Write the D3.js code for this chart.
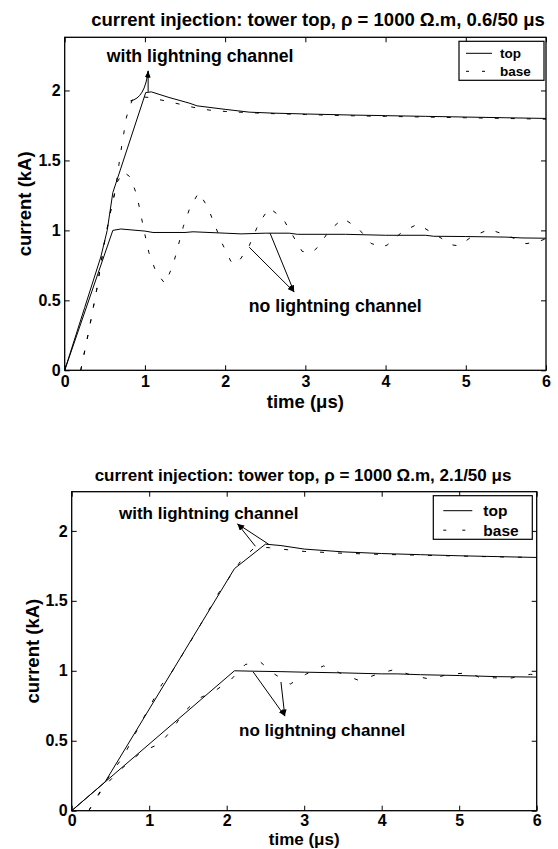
<!DOCTYPE html>
<html>
<head>
<meta charset="utf-8">
<script src="https://cdn.jsdelivr.net/npm/d3@7"></script>
<style>
  body { margin: 0; background: #fff; }
  text { font-family: Arial, "Liberation Sans", sans-serif; font-weight: bold; fill: #000; }
</style>
</head>
<body>
<svg id="fig" width="558" height="849"></svg>
<script>
var timeTicks = [0, 1, 2, 3, 4, 5, 6];
var currentTicks = [0, 0.5, 1, 1.5, 2];
var legendNames = ["top", "base"];

// 0.6/50 us, with lightning channel
var fastChanTopT  = [0, 0.25, 0.45, 0.53, 0.6, 1.01, 1.08, 1.3, 1.55, 1.65, 2.0, 2.3, 2.6, 3.0, 3.6, 4.0, 4.5, 5.0, 5.5, 6.0];
var fastChanTopI  = [0, 0.45, 0.81, 1.0, 1.27, 1.985, 1.99, 1.95, 1.91, 1.89, 1.865, 1.845, 1.838, 1.832, 1.824, 1.82, 1.815, 1.81, 1.805, 1.80];
var fastChanBaseT = [0.2, 0.3, 0.4, 0.5, 0.57, 0.63, 0.69, 0.77, 0.84, 0.95, 1.05, 1.3, 1.6, 1.8, 2.0, 2.5, 3.0, 3.5, 4.0, 4.5, 5.0, 5.5, 6.0];
var fastChanBaseI = [0, 0.28, 0.58, 0.93, 1.13, 1.28, 1.53, 1.81, 1.93, 1.955, 1.95, 1.92, 1.88, 1.86, 1.85, 1.836, 1.828, 1.82, 1.815, 1.81, 1.805, 1.80, 1.795];
// 0.6/50 us, no lightning channel
var fastNoTopT  = [0, 0.6, 0.7, 1.0, 1.1, 1.5, 1.6, 2.0, 2.2, 2.5, 2.8, 2.9, 3.5, 4.0, 4.5, 4.6, 5.0, 5.5, 5.7, 6.0];
var fastNoTopI  = [0, 1.0, 1.01, 0.995, 0.985, 0.985, 0.99, 0.98, 0.975, 0.98, 0.98, 0.972, 0.972, 0.965, 0.965, 0.958, 0.956, 0.952, 0.946, 0.944];
var fastNoBaseT = [0.2, 0.3, 0.4, 0.5, 0.57, 0.65, 0.73, 0.82, 0.9, 0.95, 1.0, 1.05, 1.14, 1.25, 1.35, 1.48, 1.56, 1.67, 1.78, 1.87, 1.96, 2.07, 2.15, 2.3, 2.42, 2.55, 2.72, 2.84, 2.96, 3.08, 3.16, 3.3, 3.47, 3.66, 3.82, 3.95, 4.02, 4.21, 4.4, 4.63, 4.84, 4.92, 5.07, 5.29, 5.51, 5.75, 5.9, 6.0];
var fastNoBaseI = [0, 0.28, 0.58, 0.93, 1.13, 1.34, 1.42, 1.38, 1.25, 1.11, 0.97, 0.84, 0.70, 0.62, 0.75, 1.03, 1.16, 1.27, 1.17, 1.04, 0.91, 0.78, 0.76, 0.89, 1.05, 1.16, 1.086, 0.966, 0.85, 0.84, 0.883, 1.0, 1.086, 1.014, 0.907, 0.88, 0.895, 0.99, 1.045, 0.966, 0.895, 0.89, 0.954, 1.007, 0.966, 0.905, 0.92, 0.94];

// 2.1/50 us, with lightning channel
var slowChanTopT  = [0, 0.43, 2.1, 2.5, 2.7, 3.0, 3.5, 4.0, 4.5, 5.0, 5.5, 6.0];
var slowChanTopI  = [0, 0.205, 1.73, 1.905, 1.895, 1.87, 1.85, 1.838, 1.83, 1.822, 1.816, 1.81];
var slowChanBaseT = [0.22, 0.39, 0.51, 0.67, 0.9, 1.16, 1.29, 1.6, 1.9, 2.2, 2.37, 2.55, 2.7, 3.0, 3.5, 4.0, 4.5, 5.0, 5.5, 6.0];
var slowChanBaseI = [0, 0.16, 0.27, 0.39, 0.636, 0.9, 0.99, 1.27, 1.56, 1.80, 1.885, 1.88, 1.87, 1.853, 1.84, 1.832, 1.826, 1.82, 1.814, 1.81];
// 2.1/50 us, no lightning channel
var slowNoTopT  = [0, 2.1, 2.35, 2.7, 3.0, 3.5, 4.0, 4.2, 4.5, 5.0, 5.5, 6.0];
var slowNoTopI  = [0, 1.0, 0.997, 0.994, 0.99, 0.985, 0.978, 0.978, 0.972, 0.966, 0.958, 0.955];
var slowNoBaseT = [0.22, 0.4, 0.6, 0.9, 1.14, 1.31, 1.44, 1.63, 1.85, 2.06, 2.24, 2.43, 2.62, 2.82, 3.02, 3.25, 3.48, 3.71, 3.94, 4.17, 4.4, 4.63, 4.86, 5.14, 5.27, 5.46, 5.64, 5.92, 6.0];
var slowNoBaseI = [0, 0.16, 0.28, 0.42, 0.48, 0.59, 0.70, 0.80, 0.857, 0.94, 1.045, 1.065, 0.975, 0.905, 0.975, 1.035, 0.98, 0.93, 0.975, 1.01, 0.965, 0.94, 0.975, 0.986, 0.95, 0.95, 0.945, 0.975, 0.97];

var svg = d3.select("#fig");
var defs = svg.append("defs");
defs.append("marker")
  .attr("id", "head")
  .attr("viewBox", "0 -3 8 6")
  .attr("refX", 8).attr("refY", 0)
  .attr("markerUnits", "userSpaceOnUse")
  .attr("markerWidth", 7).attr("markerHeight", 5)
  .attr("orient", "auto")
  .append("path").attr("d", "M0,-3L8,0L0,3Z").attr("fill", "#000");

function styleAxis(sel, size) {
  sel.attr("font-size", null).attr("font-family", null);
  sel.select(".domain").remove();
  sel.selectAll(".tick line").attr("stroke", "#000");
  sel.selectAll("text").style("font-size", size + "px");
}

function drawPanel(p) {
  var x = d3.scaleLinear().domain([0, 6]).range([p.left, p.right]);
  var y = d3.scaleLinear().domain([0, p.ymax]).range([p.bottom, p.top]);
  var g = svg.append("g");

  defs.append("clipPath").attr("id", "clip" + p.id)
    .append("rect")
    .attr("x", p.left).attr("y", p.top)
    .attr("width", p.right - p.left).attr("height", p.bottom - p.top);

  var fmt = function(d) { return d3.format("~g")(d); };

  g.append("g").attr("transform", "translate(0," + p.bottom + ")")
    .call(d3.axisBottom(x).tickValues(timeTicks).tickFormat(fmt)
      .tickSizeInner(-5).tickSizeOuter(0).tickPadding(p.xPad))
    .call(styleAxis, p.tickSize);
  g.append("g").attr("transform", "translate(0," + p.top + ")")
    .call(d3.axisTop(x).tickValues(timeTicks).tickFormat("")
      .tickSizeInner(-5).tickSizeOuter(0))
    .call(styleAxis, p.tickSize);
  g.append("g").attr("transform", "translate(" + p.left + ",0)")
    .call(d3.axisLeft(y).tickValues(currentTicks).tickFormat(fmt)
      .tickSizeInner(-5).tickSizeOuter(0).tickPadding(4))
    .call(styleAxis, p.tickSize);
  g.append("g").attr("transform", "translate(" + p.right + ",0)")
    .call(d3.axisRight(y).tickValues(currentTicks).tickFormat("")
      .tickSizeInner(-5).tickSizeOuter(0))
    .call(styleAxis, p.tickSize);

  var line = d3.line().x(function(d) { return x(d[0]); }).y(function(d) { return y(d[1]); });
  var plot = g.append("g").attr("clip-path", "url(#clip" + p.id + ")");
  p.series.forEach(function(s) {
    plot.append("path")
      .datum(d3.zip(s.t, s.i))
      .attr("d", line)
      .attr("fill", "none")
      .attr("stroke", "#000")
      .attr("stroke-width", 1)
      .attr("stroke-dasharray", s.dashed ? p.dash : null);
  });

  g.append("rect")
    .attr("x", p.left).attr("y", p.top)
    .attr("width", p.right - p.left).attr("height", p.bottom - p.top)
    .attr("fill", "none").attr("stroke", "#000").attr("stroke-width", 1.3);

  // title and axis labels
  g.append("text").attr("x", p.titleX).attr("y", p.titleY)
    .attr("text-anchor", "middle").style("font-size", p.titleSize + "px")
    .text(p.title);
  g.append("text").attr("x", (p.left + p.right) / 2).attr("y", p.xLabelY)
    .attr("text-anchor", "middle").style("font-size", p.xLabelSize + "px")
    .text("time (\u03bcs)");
  g.append("text")
    .attr("transform", "translate(" + p.yLabelX + "," + (p.top + p.bottom) / 2 + ") rotate(-90)")
    .attr("text-anchor", "middle").attr("dy", "0.35em").style("font-size", p.labelSize + "px")
    .text("current (kA)");

  // annotations
  p.notes.forEach(function(n) {
    g.append("text").attr("x", x(n.t)).attr("y", y(n.i))
      .style("font-size", p.noteSize + "px").text(n.text);
    n.arrows.forEach(function(a) {
      var d = a.c
        ? "M" + x(a.from[0]) + "," + y(a.from[1]) + " Q" + x(a.c[0]) + "," + y(a.c[1]) + " " + x(n.tip[0]) + "," + y(n.tip[1])
        : "M" + x(a.from[0]) + "," + y(a.from[1]) + " L" + x(n.tip[0]) + "," + y(n.tip[1]);
      g.append("path").attr("d", d).attr("fill", "none")
        .attr("stroke", "#000").attr("stroke-width", 1)
        .attr("marker-end", "url(#head)");
    });
  });

  // legend
  var L = p.legend;
  var lg = g.append("g").attr("transform", "translate(" + (p.right - L.dx) + "," + (p.top + L.dy) + ")");
  lg.append("rect").attr("width", L.w).attr("height", L.h)
    .attr("fill", "#fff").attr("stroke", "#000").attr("stroke-width", 1.2);
  legendNames.forEach(function(name, k) {
    var ly = L.row0 + k * L.rowGap;
    lg.append("line").attr("x1", L.lx0).attr("x2", L.lx1).attr("y1", ly).attr("y2", ly)
      .attr("stroke", "#000").attr("stroke-width", 1)
      .attr("stroke-dasharray", k === 1 ? L.dash : null);
    lg.append("text").attr("x", L.tx).attr("y", ly).attr("dy", "0.35em")
      .style("font-size", L.size + "px").text(name);
  });
}

drawPanel({
  id: "a",
  left: 64.7, right: 546, top: 37.3, bottom: 370.3, ymax: 2.38,
  xPad: 5, tickSize: 16, labelSize: 18.5, xLabelSize: 18.5, noteSize: 17.7, titleSize: 18.5,
  title: "current injection: tower top, \u03c1 = 1000 \u03a9.m, 0.6/50 \u03bcs",
  titleX: 318, titleY: 26, xLabelY: 408, yLabelX: 25,
  dash: "4,12",
  series: [
    { t: fastChanTopT, i: fastChanTopI },
    { t: fastChanBaseT, i: fastChanBaseI, dashed: true },
    { t: fastNoTopT, i: fastNoTopI },
    { t: fastNoBaseT, i: fastNoBaseI, dashed: true }
  ],
  notes: [
    { text: "with lightning channel", t: 0.525, i: 2.204, tip: [1.04, 2.14],
      arrows: [{ from: [0.82, 1.926], c: [1.0, 1.944] }, { from: [1.04, 1.99] }] },
    { text: "no lightning channel", t: 2.295, i: 0.416, tip: [2.86, 0.56],
      arrows: [{ from: [2.3, 0.88] }, { from: [2.56, 0.98] }] }
  ],
  legend: { dx: 87, dy: 4, w: 85, h: 39, row0: 12, rowGap: 18, lx0: 7, lx1: 33, tx: 41, size: 13.5, dash: "3,13" }
});

drawPanel({
  id: "b",
  left: 71.7, right: 536.7, top: 491.7, bottom: 810.7, ymax: 2.28,
  xPad: 4, tickSize: 16, labelSize: 18.5, xLabelSize: 17, noteSize: 17, titleSize: 17,
  title: "current injection: tower top, \u03c1 = 1000 \u03a9.m, 2.1/50 \u03bcs",
  titleX: 303, titleY: 481, xLabelY: 845, yLabelX: 33,
  dash: "4,14",
  series: [
    { t: slowChanTopT, i: slowChanTopI },
    { t: slowChanBaseT, i: slowChanBaseI, dashed: true },
    { t: slowNoTopT, i: slowNoTopI },
    { t: slowNoBaseT, i: slowNoBaseI, dashed: true }
  ],
  notes: [
    { text: "with lightning channel", t: 0.61, i: 2.084, tip: [2.14, 2.05],
      arrows: [{ from: [2.37, 1.89] }, { from: [2.54, 1.905] }] },
    { text: "no lightning channel", t: 2.16, i: 0.534, tip: [2.75, 0.676],
      arrows: [{ from: [2.34, 0.993] }, { from: [2.70, 0.92] }] }
  ],
  legend: { dx: 103.4, dy: 4, w: 99, h: 43.6, row0: 15, rowGap: 19.5, lx0: 10, lx1: 39, tx: 50, size: 15.5, dash: "3,16" }
});
</script>
</body>
</html>
